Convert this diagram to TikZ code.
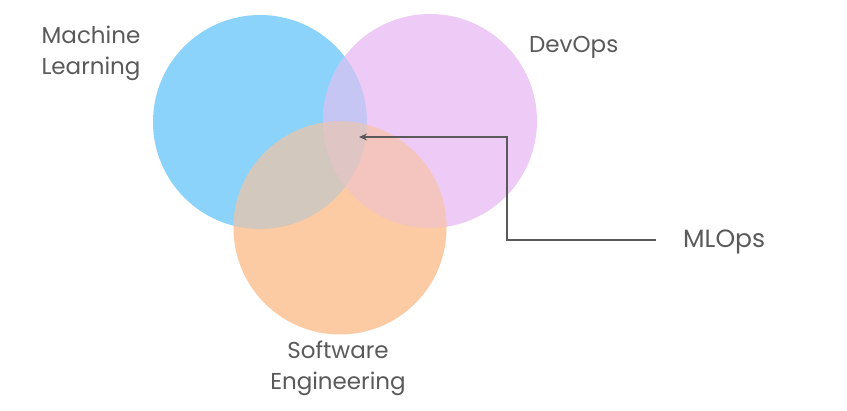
\documentclass[tikz,border=0pt]{standalone}
\usepackage{fontspec}
\setmainfont{Poppins}
\usetikzlibrary{arrows.meta}
\definecolor{cblue}{HTML}{8CD3FB}
\definecolor{cpurple}{HTML}{EECAF6}
\definecolor{corange}{HTML}{FCCBA3}
\definecolor{cbp}{HTML}{C6C6F5}
\definecolor{cbo}{HTML}{D2C8BD}
\definecolor{cpo}{HTML}{F4C5BE}
\definecolor{cbpo}{HTML}{DFC6C4}
\definecolor{ctext}{HTML}{5A5A5A}
\definecolor{cline}{HTML}{5A5A5A}
\tikzset{
  lbl/.style={text=ctext, font=\fontsize{23}{31}\selectfont, align=center, inner sep=0pt},
  conn/.style={draw=cline, line width=2.2pt, -{Stealth[length=8pt,width=7pt]}}
}
\begin{document}
\begin{tikzpicture}[x=1pt,y=-1pt]
\useasboundingbox (0,0) rectangle (847,411);
\fill[white] (0,0) rectangle (847,411);
\def\pathB{(260,122) circle (107)}
\def\pathP{(430,121) circle (107)}
\def\pathO{(340,228) circle (106.5)}
\fill[cblue] \pathB;
\fill[cpurple] \pathP;
\fill[corange] \pathO;
\begin{scope}\clip \pathB; \fill[cbp] \pathP; \end{scope}
\begin{scope}\clip \pathB; \fill[cbo] \pathO; \end{scope}
\begin{scope}\clip \pathP; \fill[cpo] \pathO; \end{scope}
\begin{scope}\clip \pathB; \clip \pathP; \fill[cbpo] \pathO; \end{scope}
\node[lbl] (ml) at (91,53) {Machine\\Learning};
\node[lbl, anchor=west] (devops) at (529,47) {DevOps};
\node[lbl] (se) at (338,368) {Software\\Engineering};
\node[lbl, anchor=west, font=\fontsize{25}{31}\selectfont] (mlops) at (683,242) {MLOps};
\coordinate (tip) at (359,137);
\draw[conn] (656,240) -- (507,240) -- (507,137) -- (tip);
\end{tikzpicture}
\end{document}
